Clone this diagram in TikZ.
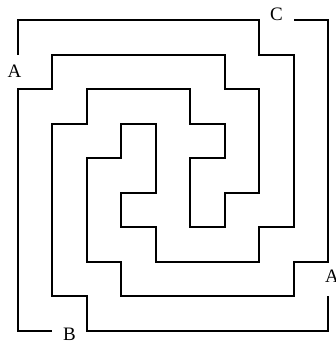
\documentclass[tikz,border=0pt]{standalone}
\usepackage{fontspec}
\setmainfont{Liberation Serif}
\usetikzlibrary{positioning}
\tikzstyle{wall} = [line width=1pt, draw=black, line join=miter]
\tikzstyle{gate} = [font=\fontsize{9.5}{11}\selectfont, inner sep=0pt]

\begin{document}
\begin{tikzpicture}[x=17.25pt, y=-17.25pt]
            \useasboundingbox (-0.52,-0.58) rectangle (9.19,9.39);

            % first wall, from the left gate round to C
            \draw[wall] (0,1) -- (0,0) -- (7,0) -- (7,1) -- (8,1) -- (8,6)
                -- (7,6) -- (7,7) -- (4,7) -- (4,6) -- (3,6) -- (3,5) -- (4,5)
                -- (4,3) -- (3,3) -- (3,4) -- (2,4) -- (2,7) -- (3,7) -- (3,8)
                -- (8,8) -- (8,7) -- (9,7) -- (9,0) -- (8,0);

            % second wall, from the right gate round to B
            \draw[wall] (9,8) -- (9,9) -- (2,9) -- (2,8) -- (1,8) -- (1,3)
                -- (2,3) -- (2,2) -- (5,2) -- (5,3) -- (6,3) -- (6,4) -- (5,4)
                -- (5,6) -- (6,6) -- (6,5) -- (7,5) -- (7,2) -- (6,2) -- (6,1)
                -- (1,1) -- (1,2) -- (0,2) -- (0,9) -- (1,9);

            % gates
            \node[gate] (gateal) at (-0.10,1.48) {A};
            \node[gate] (gatear) at (9.10,7.44) {A};
            \node[gate] (gateb) at (1.49,9.12) {B};
            \node[gate] (gatec) at (7.49,-0.17) {C};
        \end{tikzpicture}
\end{document}
